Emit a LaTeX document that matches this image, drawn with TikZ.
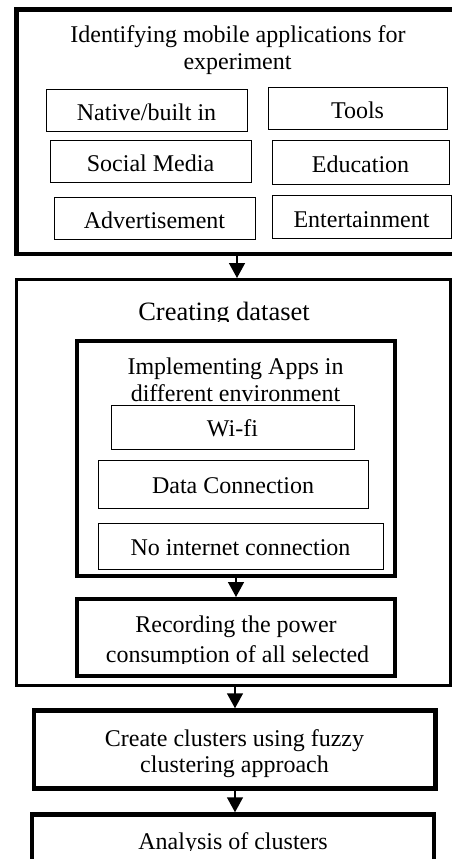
\documentclass[tikz,border=0pt]{standalone}
\usepackage{fontspec}
\setmainfont{Liberation Serif}
\usetikzlibrary{arrows.meta}
\begin{document}
\begin{tikzpicture}[x=1pt,y=-1pt,
  every node/.style={font=\fontsize{24}{27}\selectfont},
  frame/.style={draw, rectangle, inner sep=0pt},
  itembox/.style={draw, line width=1pt, rectangle, inner sep=0pt, text height=22pt, text depth=1pt},
  envbox/.style={draw, line width=1pt, rectangle, inner sep=0pt, text height=19pt, text depth=1pt},
  lbl/.style={anchor=base, inner sep=0pt},
  arr/.style={line width=1.5pt, -{Triangle[width=16pt,length=15pt]}}
]
\clip (0,0) rectangle (452,859);
\fill[white] (0,0) rectangle (452,859);

% outer frames
\node[frame, line width=4.5pt, minimum width=445.5pt, minimum height=244.5pt] (b1) at (239.25,131.75) {};
\node[frame, line width=3pt, minimum width=433.5pt, minimum height=406pt] (b2) at (233.25,482.5) {};
\node[frame, line width=4pt, minimum width=318pt, minimum height=235pt] (b3) at (236,458.5) {};
\node[frame, line width=4pt, minimum width=318pt, minimum height=77pt] (b4) at (236,637.5) {};
\node[frame, line width=4.5pt, minimum width=401.5pt, minimum height=78pt] (b5) at (234.75,749.5) {};
\node[frame, line width=4.5pt, minimum width=402pt, minimum height=85.5pt] (b6) at (233,857.25) {};

% titles
\node[lbl] (t1a) at (238,43) {Identifying mobile applications for};
\node[lbl] (t1b) at (237.5,70) {experiment};
\begin{scope}
  \clip (0,0) rectangle (452,321.5);
  \node[lbl, font=\fontsize{26.5}{30}\selectfont] (t2) at (224,320) {Creating dataset};
\end{scope}
\node[lbl] (t3a) at (235.5,374.3) {Implementing Apps in};
\begin{scope}
  \clip (0,0) rectangle (452,402.5);
  \node[lbl] (t3b) at (235.5,401.3) {different environment};
\end{scope}
\node[lbl] (t4a) at (236,632.7) {Recording the power};
\begin{scope}
  \clip (0,0) rectangle (452,663.5);
  \node[lbl] (t4b) at (237.5,662.5) {consumption of all selected};
\end{scope}
\node[lbl] (t5a) at (234.5,746.7) {Create clusters using fuzzy};
\node[lbl] (t5b) at (234.5,772.3) {clustering approach};
\begin{scope}
  \clip (0,0) rectangle (452,850);
  \node[lbl] (t6) at (233,849) {Analysis of clusters};
\end{scope}

% category boxes
\node[itembox, minimum width=201pt, minimum height=42pt] (n1) at (146.5,110) {Native/built in};
\node[itembox, minimum width=179pt, minimum height=42pt] (n2) at (357.5,108) {Tools};
\node[itembox, minimum width=201pt, minimum height=42pt] (n3) at (150.5,161) {Social Media};
\node[itembox, minimum width=177pt, minimum height=44pt] (n4) at (360.5,162) {Education};
\node[itembox, minimum width=201pt, minimum height=42pt] (n5) at (154.5,218) {Advertisement};
\node[itembox, minimum width=179pt, minimum height=43pt] (n6) at (361.5,216.5) {Entertainment};

% environment boxes
\node[envbox, minimum width=243pt, minimum height=44pt] (e1) at (232.5,427) {Wi-fi};
\node[envbox, minimum width=270pt, minimum height=48pt] (e2) at (233,484) {Data Connection};
\node[envbox, minimum width=285pt, minimum height=46pt] (e3) at (240.5,546) {No internet connection};

% arrows
\coordinate (x1) at (237,0);
\coordinate (x2) at (236,0);
\coordinate (x3) at (235,0);
\draw[arr] (b1.south -| x1) -- (b2.north -| x1);
\draw[arr] (b3.south -| x2) -- (b4.north -| x2);
\draw[arr] (b2.south -| x3) -- (b5.north -| x3);
\draw[arr] (b5.south -| x3) -- (b6.north -| x3);
\end{tikzpicture}
\end{document}
